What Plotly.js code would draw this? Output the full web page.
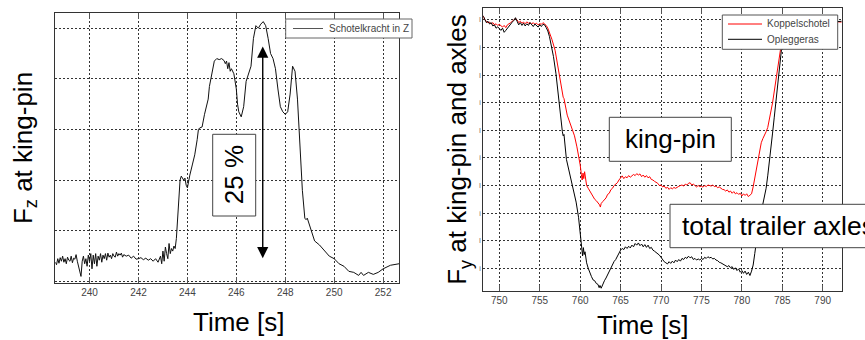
<!DOCTYPE html>
<html>
<head>
<meta charset="utf-8">
<script src="https://cdn.plot.ly/plotly-3.0.1.min.js"></script>
<style>html,body{margin:0;padding:0;background:#fff;}#chart{width:865px;height:340px;}</style>
</head>
<body>
<div id="chart"></div>
<script>
// ---------- Left panel: Schotelkracht in Z ----------
const leftName = "Schotelkracht in Z";
const leftT = [238.6,238.65,238.7,238.75,238.8,238.85,238.9,238.95,239.0,239.05,239.1,239.15,239.2,239.25,239.3,239.35,239.4,239.45,239.5,239.55,239.6,239.65,239.7,239.75,239.8,239.85,239.9,239.95,240.0,240.05,240.1,240.15,240.2,240.25,240.3,240.35,240.4,240.45,240.5,240.55,240.6,240.65,240.7,240.75,240.8,240.85,240.9,240.95,241.0,241.05,241.1,241.15,241.2,241.25,241.3,241.35,241.4,241.5,241.6,241.7,241.8,241.9,242.0,242.1,242.2,242.3,242.4,242.5,242.6,242.7,242.8,242.9,242.95,243.0,243.05,243.1,243.15,243.2,243.25,243.3,243.35,243.4,243.45,243.5,243.55,243.6,243.65,243.7,243.75,243.8,243.85,243.9,243.95,244.0,244.05,244.1,244.2,244.3,244.4,244.45,244.5,244.6,244.7,244.8,244.85,244.9,245.0,245.1,245.2,245.3,245.4,245.5,245.55,245.6,245.65,245.7,245.75,245.8,245.9,246.0,246.05,246.1,246.2,246.3,246.4,246.5,246.55,246.6,246.7,246.8,246.9,247.0,247.1,247.2,247.3,247.4,247.5,247.6,247.7,247.8,247.9,248.0,248.1,248.2,248.3,248.4,248.5,248.6,248.7,248.8,248.85,248.9,249.0,249.1,249.2,249.4,249.6,249.8,250.0,250.2,250.4,250.6,250.8,251.0,251.1,251.2,251.4,251.6,251.8,252.0,252.3,252.65];
const leftF = [0.38,0.33,0.45,0.36,0.47,0.40,0.50,0.38,0.45,0.35,0.48,0.42,0.40,0.50,0.37,0.46,0.44,0.53,0.40,0.30,0.20,0.10,0.40,0.50,0.35,0.45,0.30,0.52,0.40,0.55,0.25,0.52,0.35,0.55,0.30,0.50,0.42,0.55,0.38,0.52,0.45,0.55,0.42,0.56,0.48,0.52,0.45,0.55,0.50,0.48,0.58,0.50,0.55,0.52,0.56,0.48,0.53,0.50,0.52,0.46,0.50,0.44,0.45,0.47,0.43,0.46,0.42,0.45,0.40,0.45,0.38,0.50,0.35,0.60,0.40,0.68,0.55,0.45,0.75,0.55,0.65,0.60,0.70,0.65,0.85,1.3,1.8,2.0,2.08,2.05,2.0,2.04,1.9,1.85,2.0,2.1,2.3,2.5,2.8,3.0,3.03,3.05,3.3,3.55,3.6,3.85,4.1,4.35,4.4,4.38,4.4,4.36,4.3,4.35,4.2,4.32,4.15,4.2,4.1,3.8,3.5,3.35,3.25,3.45,3.95,4.1,4.22,4.25,4.8,5.05,5.0,5.08,5.13,5.05,4.8,4.5,4.4,4.2,3.8,3.45,3.35,3.3,3.35,3.7,4.25,4.15,3.6,2.8,1.8,1.25,1.22,1.25,1.1,0.95,0.8,0.72,0.6,0.5,0.45,0.35,0.3,0.2,0.18,0.12,0.18,0.12,0.18,0.14,0.18,0.25,0.32,0.35];
const leftTicks = [240,242,244,246,248,250,252];
const leftGrid = [0,1,2,3,4,5];

// ---------- Right panel ----------
const redName = "Koppelschotel";
const blackName = "Opleggeras";
const redT = [748.0,748.2,748.4,748.6,748.8,749.0,749.2,749.4,749.6,749.8,750.0,750.2,750.4,750.6,750.8,751.0,751.2,751.4,751.6,751.8,752.0,752.2,752.4,752.6,752.8,753.0,753.2,753.4,753.6,753.8,754.0,754.2,754.4,754.6,754.8,755.0,755.2,755.4,755.6,755.8,756.0,756.2,756.5,756.9,757.3,757.5,757.7,757.9,758.0,758.2,758.4,758.7,759.0,759.3,759.6,759.8,760.0,760.15,760.25,760.35,760.45,760.55,760.65,760.8,761.0,761.2,761.4,761.6,761.8,762.0,762.2,762.4,762.5,762.6,762.8,763.0,763.2,763.4,763.6,763.8,764.0,764.2,764.4,764.6,764.8,765.0,765.2,765.4,765.6,765.8,766.0,766.2,766.4,766.6,766.8,767.0,767.2,767.4,767.6,767.8,768.0,768.2,768.4,768.6,768.8,769.0,769.2,769.4,769.6,769.8,770.0,770.2,770.4,770.6,770.8,771.0,771.2,771.4,771.6,771.8,772.0,772.2,772.4,772.6,772.8,773.0,773.2,773.4,773.6,773.8,774.0,774.2,774.4,774.6,774.8,775.0,775.2,775.4,775.6,775.8,776.0,776.2,776.4,776.6,776.8,777.0,777.2,777.4,777.6,777.8,778.0,778.2,778.4,778.6,778.8,779.0,779.2,779.4,779.6,779.8,780.0,780.2,780.4,780.6,780.8,781.0,781.2,781.4,781.6,781.8,782.0,782.2,782.4,782.6,782.8,783.0,783.2,783.4,783.6,783.8,784.0,784.2,784.4,784.6,784.8,785.0,785.2,785.5,786.0,787.0,788.0,789.0,790.0,791.0,792.35];
const redF = [9.15,9.0,8.95,8.9,8.92,8.85,8.9,8.82,8.86,8.8,8.84,8.78,8.74,8.8,8.72,8.82,8.85,8.9,8.95,9.0,9.05,9.0,8.9,8.95,8.88,8.92,8.86,8.93,8.88,8.9,8.85,8.9,8.84,8.88,8.82,8.86,8.84,8.9,8.85,8.8,8.7,8.55,8.3,7.9,7.2,6.8,6.45,6.2,6.15,5.85,5.55,5.3,5.05,4.8,4.4,4.1,3.75,3.4,3.2,3.45,3.25,3.5,3.2,3.0,2.9,2.8,2.65,2.55,2.5,2.45,2.38,2.3,2.22,2.35,2.42,2.5,2.55,2.68,2.72,2.85,2.9,3.0,3.05,3.1,3.2,3.28,3.35,3.25,3.32,3.28,3.36,3.3,3.35,3.4,3.36,3.43,3.38,3.42,3.32,3.38,3.3,3.36,3.28,3.32,3.22,3.2,3.15,3.12,3.08,3.0,3.02,2.95,2.98,2.9,2.94,2.86,2.92,2.88,2.93,2.9,2.95,2.97,3.0,3.02,2.98,3.05,3.02,3.08,3.1,3.02,3.05,2.98,2.95,3.0,2.96,2.98,2.94,3.0,2.96,3.02,3.0,2.98,3.02,2.96,2.98,2.92,2.95,2.9,2.86,2.85,2.8,2.84,2.76,2.8,2.72,2.78,2.7,2.74,2.68,2.72,2.62,2.7,2.64,2.7,2.6,2.65,2.7,2.95,3.3,3.6,4.0,4.35,4.55,4.7,4.8,4.95,5.1,5.35,5.7,6.0,6.4,6.75,7.1,7.5,7.95,8.4,8.75,8.95,9.0,8.95,8.98,8.95,8.92,8.95,8.92];
const blackT = [748.0,748.2,748.4,748.6,748.8,749.0,749.2,749.4,749.6,749.8,750.0,750.2,750.4,750.6,750.8,751.0,751.2,751.4,751.6,751.8,752.0,752.2,752.4,752.6,752.8,753.0,753.2,753.4,753.6,753.8,754.0,754.2,754.4,754.6,754.8,755.0,755.2,755.4,755.6,755.8,756.0,756.2,756.4,756.7,757.0,757.3,757.6,757.8,757.9,758.0,758.3,758.7,759.1,759.5,759.8,760.0,760.1,760.2,760.3,760.4,760.5,760.6,760.8,761.0,761.2,761.4,761.6,761.8,762.0,762.2,762.35,762.45,762.6,762.8,763.0,763.2,763.4,763.6,763.8,764.0,764.2,764.4,764.6,764.8,765.0,765.2,765.4,765.6,765.8,766.0,766.2,766.4,766.6,766.8,767.0,767.2,767.4,767.6,767.8,768.0,768.2,768.4,768.6,768.8,769.0,769.2,769.4,769.6,769.8,770.0,770.2,770.4,770.6,770.8,771.0,771.2,771.4,771.6,771.8,772.0,772.2,772.4,772.6,772.8,773.0,773.2,773.4,773.6,773.8,774.0,774.2,774.4,774.6,774.8,775.0,775.2,775.4,775.6,775.8,776.0,776.2,776.4,776.6,776.8,777.0,777.2,777.4,777.6,777.8,778.0,778.2,778.4,778.6,778.8,779.0,779.2,779.4,779.6,779.8,780.0,780.2,780.4,780.6,780.8,781.0,781.2,781.4,781.6,781.8,782.0,782.2,782.4,782.6,782.8,783.0,783.2,783.4,783.6,783.8,784.0,784.2,784.4,784.6,784.8,785.0,785.3,785.6,786.0,787.0,788.0,789.0,790.0,791.0,792.35];
const blackF = [9.15,9.02,8.9,8.95,8.85,8.9,8.78,8.82,8.7,8.75,8.68,8.62,8.7,8.55,8.62,8.7,8.8,8.85,8.92,8.98,9.08,8.95,8.82,8.9,8.8,8.88,8.78,8.86,8.8,8.9,8.82,8.76,8.85,8.8,8.74,8.82,8.76,8.84,8.82,8.72,8.6,8.4,8.15,7.67,7.07,6.22,5.62,4.95,4.8,4.85,3.95,3.45,3.0,2.4,1.85,1.3,1.0,0.6,0.45,0.75,0.5,0.6,0.2,0.0,-0.18,-0.3,-0.42,-0.45,-0.55,-0.58,-0.7,-0.62,-0.72,-0.55,-0.45,-0.35,-0.22,-0.1,0.02,0.12,0.25,0.32,0.45,0.55,0.66,0.72,0.68,0.78,0.72,0.8,0.74,0.84,0.78,0.9,0.84,0.92,0.82,0.88,0.78,0.86,0.76,0.84,0.72,0.76,0.66,0.62,0.58,0.52,0.48,0.4,0.3,0.24,0.2,0.16,0.24,0.18,0.26,0.2,0.3,0.24,0.32,0.26,0.36,0.32,0.4,0.36,0.44,0.38,0.42,0.32,0.36,0.3,0.34,0.3,0.36,0.32,0.4,0.36,0.42,0.38,0.4,0.34,0.36,0.3,0.28,0.22,0.2,0.16,0.12,0.1,0.06,0.1,0.02,0.06,-0.04,0.02,-0.08,-0.02,-0.14,-0.08,-0.18,-0.1,-0.22,-0.14,-0.26,-0.1,0.12,0.54,1.0,1.5,1.8,2.05,2.3,2.6,2.9,3.35,3.8,4.35,4.9,5.45,6.0,6.55,7.1,7.67,8.2,8.7,8.95,9.0,8.95,8.98,8.94,8.96,8.92,8.95];
const rightTicks = [750,755,760,765,770,775,780,785,790];
const rightGrid = [0,1,2,3,4,5,6,7,8,9];
const rightGridText = ["i","I","i","I","i","I","i","I","i","I"];

// ---------- Text ----------
const xTitle = "Time [s]";
const leftYTitle = "F<sub>z</sub> at king-pin";
const rightYTitle = "F<sub>y</sub> at king-pin and axles";
const pctLabel = "25 %";
const kingpinLabel = "king-pin";
const axlesLabel = "total trailer axles";

const FONT = "Liberation Sans, Arial, sans-serif";
const W = 865, H = 340;
const PX = v => v / W;
const PY = v => 1 - v / H;

const gridStyle = {showgrid:true, gridcolor:'#333', gridwidth:1, griddash:'2px,2px', zeroline:false,
  showline:true, linecolor:'#333', linewidth:1, mirror:'ticks'};

const traces = [
  {x:leftT, y:leftF, name:leftName, type:'scatter', mode:'lines', line:{color:'#111', width:1}, xaxis:'x', yaxis:'y', showlegend:false},
  {x:redT, y:redF, name:redName, type:'scatter', mode:'lines', line:{color:'#ff0000', width:1}, xaxis:'x2', yaxis:'y2', showlegend:false},
  {x:blackT, y:blackF, name:blackName, type:'scatter', mode:'lines', line:{color:'#000', width:1}, xaxis:'x2', yaxis:'y2', showlegend:false}
];

const layout = {
  width:W, height:H, margin:{l:0,r:0,t:0,b:0},
  paper_bgcolor:'#fff', plot_bgcolor:'#fff',
  font:{family:FONT, color:'#000'},
  showlegend:false,
  xaxis: Object.assign({}, gridStyle, {
    domain:[PX(55.3), PX(399)], range:[238.6, 252.65], anchor:'y',
    tickmode:'array', tickvals:leftTicks, ticks:'inside', ticklen:6, tickcolor:'#555',
    tickfont:{size:10, color:'#444', family:FONT}
  }),
  yaxis: Object.assign({}, gridStyle, {
    domain:[PY(283), PY(13)], range:[-0.03, 5.3], anchor:'x',
    tickmode:'array', tickvals:leftGrid, showticklabels:false, ticks:'',
    title:{text:leftYTitle, font:{size:26, family:FONT, color:'#000'}, standoff:14}
  }),
  xaxis2: Object.assign({}, gridStyle, {
    domain:[PX(483.3), PX(841.7)], range:[748.02, 792.35], anchor:'y2',
    tickmode:'array', tickvals:rightTicks, ticks:'inside', ticklen:6, tickcolor:'#555',
    tickfont:{size:10, color:'#444', family:FONT}
  }),
  yaxis2: Object.assign({}, gridStyle, {
    domain:[PY(290.7), PY(8.3)], range:[-0.81, 9.42], anchor:'x2',
    tickmode:'array', tickvals:rightGrid, ticktext:rightGridText, ticks:'',
    tickfont:{size:7, color:'#666', family:FONT},
    title:{text:rightYTitle, font:{size:26, family:FONT, color:'#000'}, standoff:4}
  }),
  shapes: [
    {type:'rect', xref:'paper', yref:'paper', x0:PX(285.7), x1:PX(412), y0:PY(38), y1:PY(19), fillcolor:'#fff', line:{color:'#666', width:1}, layer:'above'},
    {type:'line', xref:'paper', yref:'paper', x0:PX(293), x1:PX(323), y0:PY(28.5), y1:PY(28.5), line:{color:'#555', width:1}, layer:'above'},
    {type:'rect', xref:'paper', yref:'paper', x0:PX(212.7), x1:PX(255.7), y0:PY(216), y1:PY(134.3), fillcolor:'#fff', line:{color:'#444', width:1}, layer:'above'},
    {type:'rect', xref:'paper', yref:'paper', x0:PX(722.3), x1:PX(837.7), y0:PY(49.3), y1:PY(15), fillcolor:'#fff', line:{color:'#555', width:1}, layer:'above'},
    {type:'line', xref:'paper', yref:'paper', x0:PX(728), x1:PX(762), y0:PY(24), y1:PY(24), line:{color:'#ff0000', width:1}, layer:'above'},
    {type:'line', xref:'paper', yref:'paper', x0:PX(728), x1:PX(762), y0:PY(39.3), y1:PY(39.3), line:{color:'#000', width:1}, layer:'above'},
    {type:'rect', xref:'paper', yref:'paper', x0:PX(609.3), x1:PX(731.3), y0:PY(161.3), y1:PY(117.3), fillcolor:'#fff', line:{color:'#444', width:1}, layer:'above'},
    {type:'rect', xref:'paper', yref:'paper', x0:PX(670), x1:PX(880), y0:PY(247.7), y1:PY(204.3), fillcolor:'#fff', line:{color:'#444', width:1}, layer:'above'}
  ],
  annotations: [
    {xref:'paper', yref:'paper', x:PX(238.5), y:PY(322), xanchor:'center', yanchor:'middle', text:xTitle, showarrow:false, font:{size:26, color:'#000', family:FONT}},
    {xref:'paper', yref:'paper', x:PX(642), y:PY(325), xanchor:'center', yanchor:'middle', text:xTitle, showarrow:false, font:{size:26, color:'#000', family:FONT}},
    {xref:'paper', yref:'paper', x:PX(327), y:PY(28.5), xanchor:'left', yanchor:'middle', text:leftName, showarrow:false, font:{size:10, color:'#444', family:FONT}},
    {xref:'paper', yref:'paper', x:PX(234.2), y:PY(175), xanchor:'center', yanchor:'middle', text:pctLabel, textangle:-90, showarrow:false, font:{size:26, color:'#000', family:FONT}},
    {xref:'x', yref:'y', x:247.08, y:4.64, ax:247.08, ay:0.43, axref:'x', ayref:'y', text:'', showarrow:true,
      arrowhead:2, startarrowhead:2, arrowside:'end+start', arrowsize:1.6, startarrowsize:1.6, arrowwidth:1.4, arrowcolor:'#000'},
    {xref:'paper', yref:'paper', x:PX(765), y:PY(24), xanchor:'left', yanchor:'middle', text:redName, showarrow:false, font:{size:10, color:'#444', family:FONT}},
    {xref:'paper', yref:'paper', x:PX(765), y:PY(39.3), xanchor:'left', yanchor:'middle', text:blackName, showarrow:false, font:{size:10, color:'#444', family:FONT}},
    {xref:'paper', yref:'paper', x:PX(670.3), y:PY(139.3), xanchor:'center', yanchor:'middle', text:kingpinLabel, showarrow:false, font:{size:26, color:'#000', family:FONT}},
    {xref:'paper', yref:'paper', x:PX(680), y:PY(226), xanchor:'left', yanchor:'middle', text:axlesLabel, showarrow:false, font:{size:26.5, color:'#000', family:FONT}}
  ]
};

Plotly.newPlot('chart', traces, layout, {staticPlot:true, displayModeBar:false});
</script>
</body>
</html>
